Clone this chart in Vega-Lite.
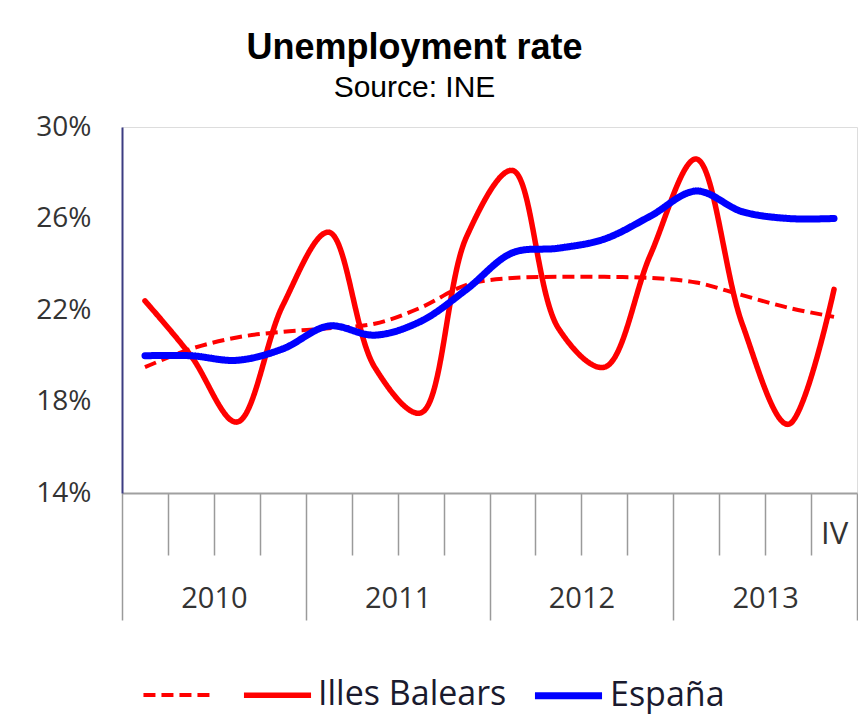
{
  "$schema": "https://vega.github.io/schema/vega-lite/v6.json",
  "width": 735,
  "height": 366,
  "autosize": "none",
  "padding": {"left": 122, "top": 127, "right": 1, "bottom": 225},
  "background": "white",
  "title": {
    "text": "Unemployment rate",
    "subtitle": "Source: INE",
    "anchor": "middle",
    "frame": "group",
    "dx": -75,
    "offset": 9,
    "font": "Liberation Sans",
    "fontSize": 36,
    "fontWeight": "bold",
    "color": "black",
    "subtitleFont": "Liberation Sans",
    "subtitleFontSize": 30,
    "subtitleColor": "black",
    "subtitlePadding": 6
  },
  "data": {
    "values": [
      {"q": 0.5, "series": "Illes Balears", "rate": 22.4},
      {"q": 1.5, "series": "Illes Balears", "rate": 20.0},
      {"q": 2.5, "series": "Illes Balears", "rate": 17.1},
      {"q": 3.5, "series": "Illes Balears", "rate": 22.2},
      {"q": 4.5, "series": "Illes Balears", "rate": 25.4},
      {"q": 5.5, "series": "Illes Balears", "rate": 19.5},
      {"q": 6.5, "series": "Illes Balears", "rate": 17.5},
      {"q": 7.5, "series": "Illes Balears", "rate": 25.2},
      {"q": 8.5, "series": "Illes Balears", "rate": 28.1},
      {"q": 9.5, "series": "Illes Balears", "rate": 21.2},
      {"q": 10.5, "series": "Illes Balears", "rate": 19.5},
      {"q": 11.5, "series": "Illes Balears", "rate": 24.4},
      {"q": 12.5, "series": "Illes Balears", "rate": 28.6},
      {"q": 13.5, "series": "Illes Balears", "rate": 21.4},
      {"q": 14.5, "series": "Illes Balears", "rate": 17.0},
      {"q": 15.5, "series": "Illes Balears", "rate": 22.9},
      {"q": 0.5, "series": "España", "rate": 20.0},
      {"q": 1.5, "series": "España", "rate": 20.0},
      {"q": 2.5, "series": "España", "rate": 19.8},
      {"q": 3.5, "series": "España", "rate": 20.3},
      {"q": 4.5, "series": "España", "rate": 21.3},
      {"q": 5.5, "series": "España", "rate": 20.9},
      {"q": 6.5, "series": "España", "rate": 21.5},
      {"q": 7.5, "series": "España", "rate": 22.9},
      {"q": 8.5, "series": "España", "rate": 24.5},
      {"q": 9.5, "series": "España", "rate": 24.7},
      {"q": 10.5, "series": "España", "rate": 25.1},
      {"q": 11.5, "series": "España", "rate": 26.1},
      {"q": 12.5, "series": "España", "rate": 27.2},
      {"q": 13.5, "series": "España", "rate": 26.3},
      {"q": 14.5, "series": "España", "rate": 26.0},
      {"q": 15.5, "series": "España", "rate": 26.0},
      {"q": 0.5, "series": "trend", "rate": 19.5},
      {"q": 1.5, "series": "trend", "rate": 20.3},
      {"q": 2.5, "series": "trend", "rate": 20.8},
      {"q": 3.5, "series": "trend", "rate": 21.05},
      {"q": 4.5, "series": "trend", "rate": 21.2},
      {"q": 5.5, "series": "trend", "rate": 21.4},
      {"q": 6.5, "series": "trend", "rate": 22.1},
      {"q": 7.5, "series": "trend", "rate": 23.1},
      {"q": 8.5, "series": "trend", "rate": 23.4},
      {"q": 9.5, "series": "trend", "rate": 23.45},
      {"q": 10.5, "series": "trend", "rate": 23.45},
      {"q": 11.5, "series": "trend", "rate": 23.4},
      {"q": 12.5, "series": "trend", "rate": 23.2},
      {"q": 13.5, "series": "trend", "rate": 22.65},
      {"q": 14.5, "series": "trend", "rate": 22.1},
      {"q": 15.5, "series": "trend", "rate": 21.7}
    ]
  },
  "encoding": {
    "y": {
      "field": "rate",
      "type": "quantitative",
      "scale": {"domain": [14, 30], "nice": false, "zero": false},
      "axis": {
        "values": [14, 18, 22, 26, 30],
        "labelExpr": "datum.value + '%'",
        "ticks": false,
        "grid": false,
        "title": null,
        "domainColor": "#3C3C82",
        "domainWidth": 2,
        "labelFont": "Open Sans",
        "labelFontSize": 28,
        "labelColor": "#333333",
        "labelPadding": 31
      }
    },
    "color": {
      "field": "series",
      "type": "nominal",
      "scale": {"domain": ["trend", "Illes Balears", "España"], "range": ["#FF0000", "#FF0000", "#0000FF"]},
      "legend": {
        "title": null,
        "orient": "none",
        "legendX": 19,
        "legendY": 531,
        "direction": "horizontal",
        "symbolType": "stroke",
        "symbolSize": 4500,
        "labelFont": "Open Sans",
        "labelFontSize": 34,
        "labelColor": "#1a1a2e",
        "labelOffset": 4,
        "columnPadding": 13,
        "labelLimit": 400,
        "labelExpr": "datum.label == 'trend' ? '' : datum.label"
      }
    },
    "strokeDash": {
      "field": "series",
      "type": "nominal",
      "scale": {"domain": ["trend", "Illes Balears", "España"], "range": [[12, 6], [1, 0], [1, 0]]}
    },
    "strokeWidth": {
      "field": "series",
      "type": "nominal",
      "scale": {"domain": ["trend", "Illes Balears", "España"], "range": [4, 7, 7]}
    }
  },
  "layer": [
    {
      "transform": [{"filter": "datum.series == 'trend'"}],
      "mark": {"type": "line", "interpolate": "catmull-rom", "strokeCap": "butt"},
      "encoding": {
        "x": {
          "field": "q",
          "type": "quantitative",
          "scale": {"domain": [0, 16], "nice": false, "zero": false},
          "axis": {
            "orient": "bottom",
            "values": [1, 2, 3, 5, 6, 7, 9, 10, 11, 13, 14, 15, 15.5],
            "tickSize": 62,
            "tickWidth": 1.5,
            "tickColor": {"condition": {"test": "datum.value == 15.5", "value": "transparent"}, "value": "#9A9A9A"},
            "domain": false,
            "grid": false,
            "title": null,
            "labelExpr": "datum.value == 15.5 ? 'IV' : ''",
            "labelFont": "Open Sans",
            "labelFontSize": 31,
            "labelColor": "#333333",
            "labelPadding": -36,
            "labelOverlap": false,
            "labelFlush": false,
            "labelBound": false
          }
        }
      }
    },
    {
      "transform": [{"filter": "datum.series == 'Illes Balears'"}],
      "mark": {"type": "line", "interpolate": "catmull-rom", "strokeCap": "round"},
      "encoding": {
        "x": {
          "field": "q",
          "type": "quantitative",
          "scale": {"domain": [0, 16], "nice": false, "zero": false},
          "axis": {
            "orient": "bottom",
            "values": [0, 4, 8, 12, 16],
            "tickSize": 127,
            "tickWidth": 1.5,
            "tickColor": "#9A9A9A",
            "domain": true,
            "domainColor": "#A0A0A0",
            "domainWidth": 2,
            "labels": false,
            "grid": false,
            "title": null
          }
        }
      }
    },
    {
      "transform": [{"filter": "datum.series == 'España'"}],
      "mark": {"type": "line", "interpolate": "catmull-rom", "strokeCap": "round"},
      "encoding": {
        "x": {
          "field": "q",
          "type": "quantitative",
          "scale": {"domain": [0, 16], "nice": false, "zero": false},
          "axis": {
            "orient": "bottom",
            "values": [2, 6, 10, 14],
            "ticks": false,
            "domain": false,
            "grid": false,
            "title": null,
            "labelExpr": "datum.value == 2 ? '2010' : datum.value == 6 ? '2011' : datum.value == 10 ? '2012' : '2013'",
            "labelFont": "Open Sans",
            "labelFontSize": 29,
            "labelColor": "#333333",
            "labelPadding": 91,
            "labelOverlap": false,
            "labelFlush": false
          }
        }
      }
    }
  ],
  "resolve": {"axis": {"x": "independent"}}
}
